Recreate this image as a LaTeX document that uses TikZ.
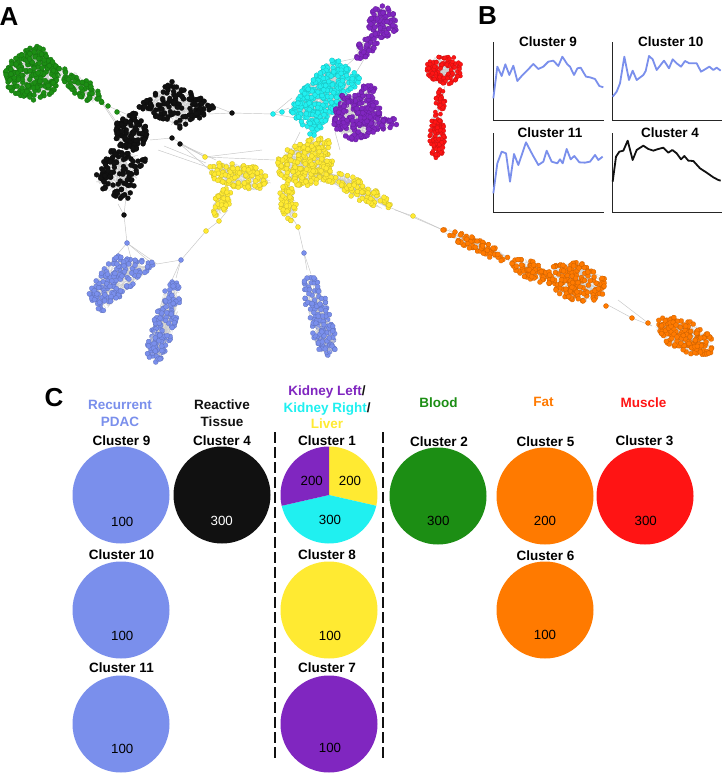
\documentclass[tikz,border=0pt]{standalone}
\usepackage{fontspec}
\setmainfont{Liberation Sans}
\definecolor{pdac}{RGB}{122,143,236}
\definecolor{blk}{RGB}{17,17,17}
\definecolor{purp}{RGB}{128,38,192}
\definecolor{cyanc}{RGB}{32,240,240}
\definecolor{yel}{RGB}{255,234,50}
\definecolor{grn}{RGB}{28,142,20}
\definecolor{org}{RGB}{255,122,0}
\definecolor{redc}{RGB}{255,20,20}
\def\dotr{2.5pt}
\def\blobcol{blk}
% elliptic cloud of dots with a light web of edges: cx cy rx ry rot n color
\newcommand\eblob[7]{%
 \begin{scope}[shift={(#1,#2)},rotate=#5]
 \foreach \k in {1,...,#6}{%
  \pgfmathsetmacro\myr{sqrt(rnd)}%
  \pgfmathsetmacro\mya{360*rnd}%
  \pgfmathsetmacro\px{\myr*#3*cos(\mya)}%
  \pgfmathsetmacro\py{\myr*#4*sin(\mya)}%
  \pgfmathsetmacro\myr{sqrt(rnd)}%
  \pgfmathsetmacro\mya{360*rnd}%
  \pgfmathsetmacro\qx{\myr*#3*cos(\mya)}%
  \pgfmathsetmacro\qy{\myr*#4*sin(\mya)}%
  \draw[draw=gray!40,line width=0.3pt] (\px,\py) -- (\qx,\qy);
 }
 \foreach \k in {1,...,#6}{%
  \pgfmathsetmacro\myr{sqrt(rnd)}%
  \pgfmathsetmacro\mya{360*rnd}%
  \pgfmathsetmacro\px{\myr*#3*cos(\mya)}%
  \pgfmathsetmacro\py{\myr*#4*sin(\mya)}%
  \fill[#7,draw=#7!78!black,line width=0.25pt] (\px,\py) circle[radius=\dotr];
 }
 \end{scope}}
% quadrilateral cloud of dots: 4 corners, n  (colour in \blobcol)
\newcommand\qblob[9]{%
 \foreach \k in {1,...,#9}{%
  \pgfmathsetmacro\myu{rnd}%
  \pgfmathsetmacro\myv{rnd}%
  \pgfmathsetmacro\px{(1-\myu)*(1-\myv)*#1+\myu*(1-\myv)*#3+\myu*\myv*#5+(1-\myu)*\myv*#7}%
  \pgfmathsetmacro\py{(1-\myu)*(1-\myv)*#2+\myu*(1-\myv)*#4+\myu*\myv*#6+(1-\myu)*\myv*#8}%
  \pgfmathsetmacro\myu{rnd}%
  \pgfmathsetmacro\myv{rnd}%
  \pgfmathsetmacro\qx{(1-\myu)*(1-\myv)*#1+\myu*(1-\myv)*#3+\myu*\myv*#5+(1-\myu)*\myv*#7}%
  \pgfmathsetmacro\qy{(1-\myu)*(1-\myv)*#2+\myu*(1-\myv)*#4+\myu*\myv*#6+(1-\myu)*\myv*#8}%
  \draw[draw=gray!40,line width=0.3pt] (\px,\py) -- (\qx,\qy);
 }
 \foreach \k in {1,...,#9}{%
  \pgfmathsetmacro\myu{rnd}%
  \pgfmathsetmacro\myv{rnd}%
  \pgfmathsetmacro\px{(1-\myu)*(1-\myv)*#1+\myu*(1-\myv)*#3+\myu*\myv*#5+(1-\myu)*\myv*#7}%
  \pgfmathsetmacro\py{(1-\myu)*(1-\myv)*#2+\myu*(1-\myv)*#4+\myu*\myv*#6+(1-\myu)*\myv*#8}%
  \fill[\blobcol,draw=\blobcol!78!black,line width=0.25pt] (\px,\py) circle[radius=\dotr];
 }}
\newcommand\dotat[3]{\fill[#3,draw=#3!78!black,line width=0.25pt] (#1,#2) circle[radius=\dotr];}
\tikzset{
 gedge/.style={draw=gray!45,line width=0.45pt},
 panel/.style={font=\bfseries\fontsize{26}{26}\selectfont,anchor=base,inner sep=0pt},
 hdr/.style={font=\bfseries\fontsize{13.5}{16}\selectfont,anchor=base,inner sep=0pt},
 clab/.style={font=\bfseries\fontsize{13.5}{16}\selectfont,anchor=base,inner sep=0pt},
 numl/.style={font=\fontsize{13.3}{15}\selectfont,anchor=base,inner sep=0pt},
 bubble/.style={circle,minimum size=97pt,inner sep=0pt,draw=none},
 sep/.style={line width=2.6pt,dash pattern=on 11pt off 4pt,blk},
 axis/.style={line width=1.6pt,draw=black!85},
 trace/.style={line width=1.8pt,line join=round},
}
\begin{document}
\begin{tikzpicture}[x=1pt,y=-1pt]
\useasboundingbox (0,0) rectangle (722,775);
\fill[white] (0,0) rectangle (722,775);
\pgfmathsetseed{17}

% ---------------- panel labels
\node[panel] (labA) at (9,25.3) {A};
\node[panel] (labB) at (487.5,24.3) {B};
\node[panel] (labC) at (54,406) {C};

% ---------------- panel A : network edges
\coordinate (gT) at (118,112);
\coordinate (bC) at (130,127);
\coordinate (bR) at (232,113);
\coordinate (cL) at (273,114);
\coordinate (bS) at (180,144);
\coordinate (bS2) at (172,138);
\coordinate (yL) at (205,157);
\coordinate (bB) at (124,215);
\coordinate (pL) at (127,243);
\coordinate (y1) at (206,231);
\coordinate (y2) at (219,221);
\coordinate (pM) at (181,260);
\coordinate (pMt) at (176,278);
\coordinate (y3) at (298,227);
\coordinate (pR) at (304,253);
\coordinate (pRt) at (307,270);
\coordinate (yR) at (395,210);
\coordinate (y4) at (413,216);
\coordinate (oS) at (443,230);
\coordinate (oM) at (606,304);
\coordinate (o1) at (632,318);
\coordinate (oE) at (652,326);
\coordinate (puT) at (357,58);
\coordinate (cT) at (338,62);

\draw[gedge] (gT) -- (bC);
\draw[gedge] (108,106) -- (135,118);
\draw[gedge] (104,104) -- (126,136);
\draw[gedge] (100,100) -- (120,130);
\draw[gedge] (bR) -- (cL);
\draw[gedge] (214,106) -- (bR);
\draw[gedge] (208,114) -- (bR);
\draw[gedge] (cL) -- (292,98);
\draw[gedge] (cL) -- (296,118);
\draw[gedge] (cL) -- (289,108);
\draw[gedge] (bS) -- (yL);
\draw[gedge] (bS2) -- (yL);
\draw[gedge] (bS) -- (216,160);
\draw[gedge] (bS) -- (212,172);
\draw[gedge] (164,146) -- (206,163);
\draw[gedge] (150,140) -- (bS2);
\draw[gedge] (158,150) -- (210,168);
\draw[gedge] (bB) -- (pL);
\draw[gedge] (bB) -- (118,204);
\draw[gedge] (bB) -- (126,197);
\draw[gedge] (pL) -- (115,257);
\draw[gedge] (pL) -- (131,258);
\draw[gedge] (pL) -- (150,262);
\draw[gedge] (pL) -- (157,264);
\draw[gedge] (y2) -- (y1);
\draw[gedge] (y1) -- (pM);
\draw[gedge] (pM) -- (pMt);
\draw[gedge] (pM) -- (171,282);
\draw[gedge] (pM) -- (157,264);
\draw[gedge] (y2) -- (228,210);
\draw[gedge] (290,214) -- (y3);
\draw[gedge] (y3) -- (pR);
\draw[gedge] (pR) -- (pRt);
\draw[gedge] (pR) -- (311,274);
\draw[gedge] (yR) -- (y4);
\draw[gedge] (y4) -- (oS);
\draw[gedge] (382,204) -- (oS);
\draw[gedge] (oM) -- (o1);
\draw[gedge] (o1) -- (oE);
\draw[gedge] (618,300) -- (oE);
\draw[gedge] (puT) -- (cT);
\draw[gedge] (362,52) -- (346,66);
\draw[gedge] (366,56) -- (354,76);
\draw[gedge] (300,132) -- (290,152);
\draw[gedge] (318,138) -- (322,152);
\draw[gedge] (335,132) -- (340,150);
\draw[gedge] (445,86) -- (438,112);
\draw[gedge] (yL) -- (262,150);
\draw[gedge] (yL) -- (275,160);

% ---------------- panel A : dots
% green
\eblob{32}{76}{27}{24}{0}{230}{grn}
\eblob{35}{55}{12}{9}{0}{35}{grn}
\eblob{80}{86}{28}{9}{-38}{65}{grn}
\dotat{108}{106}{grn}
\dotat{117}{112}{grn}
% black
\eblob{131}{132}{16}{19}{0}{110}{blk}
\def\blobcol{blk}
\qblob{137}{107}{173}{80}{216}{108}{180}{130}{140}
\qblob{92}{183}{110}{150}{147}{157}{127}{203}{115}
\dotat{232}{113}{blk}
\dotat{180}{144}{blk}
\dotat{124}{215}{blk}
\dotat{172}{138}{blk}
% cyan
\def\blobcol{cyanc}
\qblob{287}{107}{333}{57}{362}{78}{313}{138}{320}
\dotat{273}{114}{cyanc}
\dotat{282}{112}{cyanc}
% purple
\eblob{383}{22}{15}{16}{0}{80}{purp}
\eblob{367}{45}{16}{8}{53}{40}{purp}
\dotat{357}{58}{purp}
\eblob{358}{117}{25}{23}{20}{200}{purp}
\eblob{385}{123}{12}{6}{0}{22}{purp}
\eblob{368}{92}{8}{8}{0}{18}{purp}
\eblob{345}{100}{6}{8}{0}{12}{purp}
% red
\def\dotr{2.1pt}
\eblob{444}{70}{18}{15}{0}{110}{redc}
\eblob{440}{100}{5}{13}{0}{30}{redc}
\eblob{437}{135}{8}{24}{0}{95}{redc}
\def\dotr{2.5pt}
% yellow
\eblob{305}{165}{28}{21}{0}{190}{yel}
\eblob{318}{146}{14}{8}{0}{30}{yel}
\eblob{240}{176}{32}{13}{-12}{100}{yel}
\eblob{222}{202}{8}{15}{-25}{35}{yel}
\eblob{288}{202}{8}{20}{8}{50}{yel}
\eblob{355}{188}{42}{9}{-28}{95}{yel}
\dotat{413}{216}{yel}
\dotat{206}{231}{yel}
\dotat{219}{221}{yel}
\dotat{298}{227}{yel}
\dotat{205}{157}{yel}
% orange
\eblob{478}{246}{38}{6}{-25}{60}{org}
\eblob{530}{270}{20}{9}{-27}{55}{org}
\eblob{577}{282}{30}{19}{-15}{160}{org}
\eblob{685}{336}{32}{15}{-25}{160}{org}
\dotat{443}{230}{org}
\dotat{455}{232}{org}
\dotat{606}{306}{org}
\dotat{632}{318}{org}
\dotat{648}{323}{org}
% blue
\def\blobcol{pdac}
\qblob{87}{291}{115}{255}{157}{263}{100}{315}{150}
\eblob{165}{322}{42}{11}{76}{110}{pdac}
\eblob{157}{345}{16}{11}{76}{45}{pdac}
\eblob{319}{315}{42}{11}{-75}{105}{pdac}
\eblob{325}{337}{18}{12}{-75}{45}{pdac}
\dotat{127}{243}{pdac}
\dotat{181}{260}{pdac}
\dotat{304}{253}{pdac}

% ---------------- panel B
\node[clab] (t9) at (548,46.5) {Cluster 9};
\node[clab] (t10) at (670.7,46.5) {Cluster 10};
\node[clab] (t11) at (550,138) {Cluster 11};
\node[clab] (t4) at (670,138) {Cluster 4};
\begin{scope}[shift={(480,0)},scale=1/3]
\draw[axis] (40,127) -- (40,362) -- (372,362);
\draw[axis] (398,127) -- (398,362) -- (726,362);
\draw[axis] (40,400) -- (40,637) -- (372,637);
\draw[axis] (398,400) -- (398,637) -- (726,637);
\draw[trace,pdac] plot coordinates {(40,295)(52,200)(65,228)(76,193)(88,225)(100,197)(112,243)(125,228)(140,213)(160,192)(175,207)(190,200)(205,185)(220,182)(235,198)(247,170)(262,193)(270,200)(282,225)(292,205)(302,203)(318,230)(330,232)(345,237)(358,258)(370,262)};
\draw[trace,pdac] plot coordinates {(398,290)(410,275)(420,250)(433,170)(447,240)(458,212)(470,240)(490,225)(497,213)(507,168)(518,178)(530,210)(552,182)(567,205)(578,178)(590,190)(603,200)(615,183)(628,190)(650,190)(663,215)(675,208)(688,200)(700,210)(710,203)(722,212)};
\draw[trace,pdac] plot coordinates {(40,580)(52,490)(65,455)(78,460)(90,545)(102,462)(115,495)(138,427)(158,465)(175,495)(190,485)(200,452)(215,485)(232,490)(240,478)(248,490)(260,447)(272,478)(283,468)(298,487)(315,488)(330,485)(345,465)(355,480)(368,470)};
\draw[trace,blk] plot coordinates {(398,545)(408,470)(418,455)(430,452)(443,422)(458,480)(470,450)(490,437)(505,447)(520,452)(535,447)(550,443)(565,458)(577,450)(590,460)(603,478)(613,468)(625,482)(640,483)(660,505)(680,518)(700,532)(715,540)(722,542)};
\end{scope}

% ---------------- panel C headers
\node[hdr,pdac] (h1a) at (120,409) {Recurrent};
\node[hdr,pdac] (h1b) at (120,426) {PDAC};
\node[hdr,blk] (h2a) at (222,409) {Reactive};
\node[hdr,blk] (h2b) at (222,426) {Tissue};
\node[hdr] (h3a) at (327,395) {\textcolor{purp}{Kidney Left}\textcolor{blk}{/}};
\node[hdr] (h3b) at (327,412) {\textcolor{cyanc}{Kidney Right}\textcolor{blk}{/}};
\node[hdr,yel] (h3c) at (327,428.5) {Liver};
\node[hdr,grn] (h4) at (438.5,407) {Blood};
\node[hdr,org] (h5) at (543.5,406) {Fat};
\node[hdr,redc] (h6) at (643.5,407) {Muscle};

% separators
\coordinate (s1t) at (275,432);
\coordinate (s1b) at (275,760);
\coordinate (s2t) at (383,432);
\coordinate (s2b) at (383,760);
\draw[sep] (s1t) -- (s1b);
\draw[sep] (s2t) -- (s2b);

% cluster labels
\node[clab] (l9) at (121.5,445) {Cluster 9};
\node[clab] (l4) at (222,445) {Cluster 4};
\node[clab] (l1) at (327,445) {Cluster 1};
\node[clab] (l2) at (439,446) {Cluster 2};
\node[clab] (l5) at (545.5,446) {Cluster 5};
\node[clab] (l3) at (644.5,445) {Cluster 3};
\node[clab] (l10) at (121.5,559.5) {Cluster 10};
\node[clab] (l8) at (327,559.5) {Cluster 8};
\node[clab] (l6) at (545.5,560) {Cluster 6};
\node[clab] (l11) at (121.5,672) {Cluster 11};
\node[clab] (l7) at (327,672) {Cluster 7};

% bubbles
\node[bubble,fill=pdac] (c9) at (121,495) {};
\node[bubble,fill=blk] (c4) at (222,495) {};
\node[bubble] (c1) at (329,495) {};
\node[bubble,fill=grn] (c2) at (438,496) {};
\node[bubble,fill=org] (c5) at (545,496) {};
\node[bubble,fill=redc] (c3) at (645,496) {};
\node[bubble,fill=pdac] (c10) at (121,610) {};
\node[bubble,fill=yel] (c8) at (329,610) {};
\node[bubble,fill=org] (c6) at (545,610) {};
\node[bubble,fill=pdac] (c11) at (121,724) {};
\node[bubble,fill=purp] (c7) at (329,724) {};
\fill[yel] (c1.center) -- +(-90:48.5) arc[start angle=-90,end angle=12.86,radius=48.5] -- cycle;
\fill[cyanc] (c1.center) -- +(12.86:48.5) arc[start angle=12.86,end angle=167.14,radius=48.5] -- cycle;
\fill[purp] (c1.center) -- +(167.14:48.5) arc[start angle=167.14,end angle=270,radius=48.5] -- cycle;

% counts
\node[numl] (n9) at (122.3,526.5) {100};
\node[numl,white] (n4) at (221.7,525) {300};
\node[numl] (n1a) at (311.7,485) {200};
\node[numl] (n1b) at (350,485) {200};
\node[numl] (n1c) at (330,524) {300};
\node[numl] (n2) at (438.3,525) {300};
\node[numl] (n5) at (545,525) {200};
\node[numl] (n3) at (645.7,525) {300};
\node[numl] (n10) at (122.3,640) {100};
\node[numl] (n8) at (330,640) {100};
\node[numl] (n6) at (545,639) {100};
\node[numl] (n11) at (122.3,753) {100};
\node[numl] (n7) at (330,752.5) {100};
\end{tikzpicture}
\end{document}
